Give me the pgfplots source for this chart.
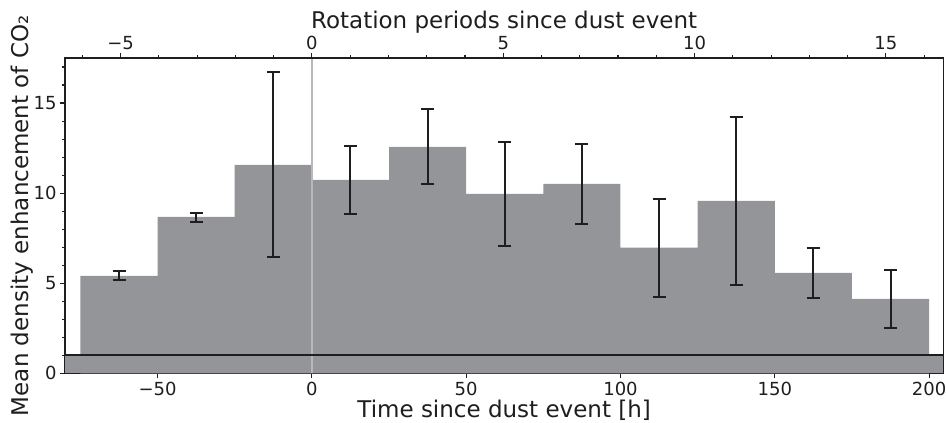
\documentclass[border=0pt]{standalone}
\usepackage{fontspec}
\setmainfont{DejaVu Sans}
\usepackage{pgfplots}
\pgfplotsset{compat=1.18}
\definecolor{barg}{RGB}{148,149,153}
\definecolor{vline}{RGB}{183,183,188}
\definecolor{ink}{RGB}{30,30,30}
\begin{document}
\begin{tikzpicture}
\useasboundingbox (-65pt,-49pt) rectangle (881pt,373.3pt);
\begin{axis}[
  at={(0,0)}, anchor=south west,
  width=878.3pt, height=315.3pt, scale only axis,
  xmin=-80, xmax=204.6, ymin=0, ymax=17.5,
  axis line style={ink, line width=1.2pt},
  xtick={-50,0,50,100,150,200},
  xticklabels={−50,0,50,100,150,200},
  ytick={0,5,10,15},
  minor ytick={1,2,3,4,6,7,8,9,11,12,13,14,16,17},
  xtick pos=bottom, ytick pos=left,
  tick align=outside,
  major tick length=5pt, minor tick length=3pt,
  every tick/.style={ink, line width=1.1pt},
  /pgf/number format/assume math mode=true,
  tick label style={font=\fontsize{18}{21}\selectfont, color=ink},
  xlabel={Time since dust event [h]},
  ylabel={Mean density enhancement of CO₂},
  label style={font=\fontsize{23}{27}\selectfont, color=ink},
  xlabel style={at={(axis description cs:0.5,0)}, anchor=base, yshift=-44pt},
  every axis y label/.style={at={(axis description cs:-0.04896,0.5)}, anchor=center, rotate=90, font=\fontsize{23}{27}\selectfont, color=ink},
  clip=true,
]
\addplot[ybar interval, fill=barg, draw=none] coordinates {(-80,1) (204.6,1)};
\addplot[ybar interval, fill=barg, draw=none] coordinates {
  (-75,5.41) (-50,8.68) (-25,11.57) (0,10.74) (25,12.57) (50,9.96)
  (75,10.52) (100,6.98) (125,9.57) (150,5.57) (175,4.13) (200,4.13)};
\addplot[vline, line width=2pt] coordinates {(0,0) (0,17.5)};
\addplot[ink, line width=2pt] coordinates {(-80,1) (204.6,1)};
\addplot[draw=none, mark=none,
  error bars/.cd, y dir=both, y explicit,
  error bar style={ink, line width=2pt},
  error mark options={ink, line width=2pt, mark size=6.5pt, rotate=90}]
  coordinates {
  (-62.5,5.42) +- (0,0.25)
  (-37.5,8.65) +- (0,0.27)
  (-12.5,11.57) +- (0,5.13)
  (12.5,10.71) +- (0,1.88)
  (37.5,12.58) +- (0,2.10)
  (62.5,9.93) +- (0,2.88)
  (87.5,10.49) +- (0,2.23)
  (112.5,6.96) +- (0,2.72)
  (137.5,9.57) +- (0,4.66)
  (162.5,5.56) +- (0,1.39)
  (187.5,4.11) +- (0,1.61)};
\end{axis}
\begin{axis}[
  at={(0,0)}, anchor=south west,
  width=878.3pt, height=315.3pt, scale only axis,
  xmin=-6.452, xmax=16.5, ymin=0, ymax=17.5,
  axis x line*=top, axis y line=none,
  axis line style={ink, line width=1.2pt},
  xtick={-5,0,5,10,15},
  xticklabels={−5,0,5,10,15},
  minor xtick={-6,-4,-3,-2,-1,1,2,3,4,6,7,8,9,11,12,13,14,16},
  tick align=outside,
  major tick length=5pt, minor tick length=3pt,
  every tick/.style={ink, line width=1.1pt},
  tick label style={font=\fontsize{18}{21}\selectfont, color=ink},
  xlabel={Rotation periods since dust event},
  label style={font=\fontsize{23}{27}\selectfont, color=ink},
  xlabel style={at={(axis description cs:0.5,1)}, anchor=base, yshift=29.7pt},
]
\end{axis}
\end{tikzpicture}
\end{document}
